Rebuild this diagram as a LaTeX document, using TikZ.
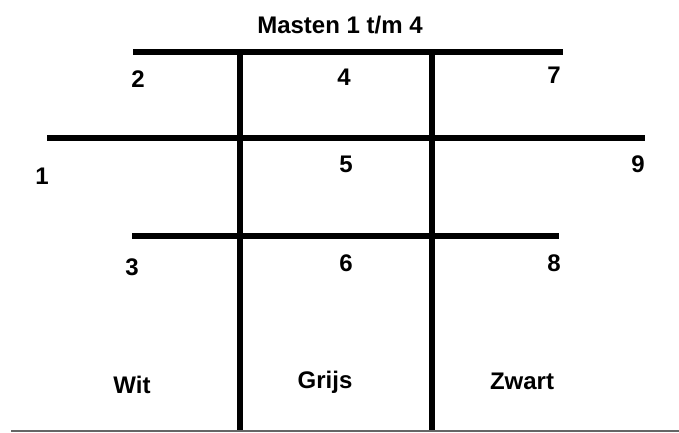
\documentclass[tikz,border=0pt]{standalone}
\usepackage{fontspec}
\setmainfont{Liberation Sans}
\usepackage{tikz}
\usetikzlibrary{positioning}
\tikzset{bar/.style = {draw, line width = 6pt},
         mast/.style = {draw, line width = 6pt},
         ground/.style = {draw = black!60, line width = 1.5pt},
         lbl/.style = {font = \fontsize{24}{27}\selectfont\bfseries, inner sep = 0pt, anchor = base},
}

\begin{document}
\begin{tikzpicture}[x = 1pt, y = -1pt]
  \useasboundingbox (0,0) rectangle (679,432);

  \coordinate (t1) at (133,52);   \coordinate (t2) at (563,52);
  \coordinate (m1) at (47,137.5); \coordinate (m2) at (645,137.5);
  \coordinate (b1) at (132,236);  \coordinate (b2) at (559,236);
  \coordinate (v1) at (240,51);   \coordinate (v1e) at (240,432);
  \coordinate (v2) at (432,51);   \coordinate (v2e) at (432,432);
  \coordinate (g1) at (11,431);   \coordinate (g2) at (679,431);

  \path[bar] (t1) -- (t2);
  \path[bar] (m1) -- (m2);
  \path[bar] (b1) -- (b2);
  \path[mast] (v1) -- (v1e);
  \path[mast] (v2) -- (v2e);
  \path[ground] (g1) -- (g2);

  \node[lbl] at (340,33) (title) {Masten 1 t/m 4};
  \node[lbl] at (138,87) (n2) {2};
  \node[lbl] at (344,85) (n4) {4};
  \node[lbl] at (554,83) (n7) {7};
  \node[lbl] at (42,184) (n1) {1};
  \node[lbl] at (346,172) (n5) {5};
  \node[lbl] at (638,172) (n9) {9};
  \node[lbl] at (132,275) (n3) {3};
  \node[lbl] at (346,271) (n6) {6};
  \node[lbl] at (554,271) (n8) {8};
  \node[lbl] at (132,393) (wit) {Wit};
  \node[lbl] at (325,388) (grijs) {Grijs};
  \node[lbl] at (522,389) (zwart) {Zwart};

\end{tikzpicture}
\end{document}
